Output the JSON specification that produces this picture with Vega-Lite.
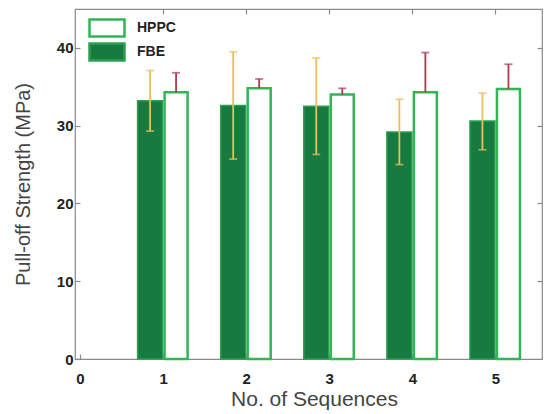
{
  "$schema": "https://vega.github.io/schema/vega-lite/v6.json",
  "width": 467,
  "height": 350,
  "autosize": {"type": "none"},
  "padding": {"left": 75, "top": 9, "right": 5, "bottom": 55},
  "background": "white",
  "config": {
    "font": "Liberation Sans",
    "view": {"stroke": "#8a8a8a", "strokeWidth": 1.2},
    "axis": {
      "domain": false,
      "grid": false,
      "tickColor": "#8a8a8a",
      "tickSize": -5,
      "tickWidth": 1.2,
      "labelFont": "Liberation Sans",
      "labelFontWeight": "bold",
      "labelFontSize": 15,
      "labelColor": "#222",
      "titleFont": "Liberation Sans",
      "titleFontWeight": "normal",
      "titleFontSize": 20,
      "titleColor": "#444"
    },
    "legend": {"rowPadding": -5, "padding": 0, "symbolSize": 306}
  },
  "resolve": {"axis": {"x": "independent", "y": "independent"}},
  "data": {
    "values": [
      {"seq": 1, "series": "FBE", "mean": 33.2, "lo": 29.3, "hi": 37.1},
      {"seq": 2, "series": "FBE", "mean": 32.6, "lo": 25.7, "hi": 39.5},
      {"seq": 3, "series": "FBE", "mean": 32.5, "lo": 26.3, "hi": 38.7},
      {"seq": 4, "series": "FBE", "mean": 29.2, "lo": 25.0, "hi": 33.4},
      {"seq": 5, "series": "FBE", "mean": 30.6, "lo": 26.9, "hi": 34.2},
      {"seq": 1, "series": "HPPC", "mean": 34.3, "lo": 31.8, "hi": 36.8},
      {"seq": 2, "series": "HPPC", "mean": 34.8, "lo": 33.6, "hi": 36.0},
      {"seq": 3, "series": "HPPC", "mean": 34.0, "lo": 33.2, "hi": 34.8},
      {"seq": 4, "series": "HPPC", "mean": 34.3, "lo": 29.2, "hi": 39.4},
      {"seq": 5, "series": "HPPC", "mean": 34.7, "lo": 31.5, "hi": 37.9}
    ]
  },
  "layer": [
    {
      "transform": [{"filter": "datum.series === 'FBE'"}],
      "mark": {"type": "bar", "width": 25, "xOffset": -13, "strokeWidth": 1.5},
      "encoding": {
        "x": {
          "field": "seq", "type": "quantitative",
          "scale": {"domain": [0, 5.5], "nice": false},
          "axis": {"orient": "bottom", "values": [0, 1, 2, 3, 4, 5], "format": "d", "labelPadding": 17, "title": "No. of Sequences", "titleFontSize": 21, "titlePadding": 2, "titleX": 239}
        },
        "y": {
          "field": "mean", "type": "quantitative",
          "scale": {"domain": [0, 45], "nice": false},
          "axis": {"orient": "left", "values": [0, 10, 20, 30, 40], "labelPadding": 7, "title": "Pull-off Strength (MPa)", "titlePadding": 23}
        },
        "fill": {
          "field": "series", "type": "nominal",
          "scale": {"domain": ["HPPC", "FBE"], "range": ["#ffffff", "#167a41"]},
          "legend": {
            "orient": "none", "legendX": 22, "legendY": 9, "title": null,
            "symbolType": "M-2,-0.96H2V0.96H-2Z", "symbolSize": 306, "symbolStrokeWidth": 2.5,
            "labelFont": "Liberation Sans", "labelFontWeight": "bold", "labelFontSize": 14, "labelColor": "#222",
            "labelOffset": 20, "rowPadding": -5
          }
        },
        "stroke": {
          "field": "series", "type": "nominal",
          "scale": {"domain": ["HPPC", "FBE"], "range": ["#31b555", "#2e9e50"]},
          "legend": {
            "orient": "none", "legendX": 22, "legendY": 9, "title": null,
            "symbolType": "M-2,-0.96H2V0.96H-2Z", "symbolSize": 306, "symbolStrokeWidth": 2.5,
            "labelFont": "Liberation Sans", "labelFontWeight": "bold", "labelFontSize": 14, "labelColor": "#222",
            "labelOffset": 20, "rowPadding": -5
          }
        }
      }
    },
    {
      "transform": [{"filter": "datum.series === 'HPPC'"}],
      "mark": {"type": "bar", "width": 23, "xOffset": 13, "strokeWidth": 2.5},
      "encoding": {
        "x": {"field": "seq", "type": "quantitative", "axis": null},
        "y": {"field": "mean", "type": "quantitative", "axis": null},
        "fill": {"field": "series", "type": "nominal"},
        "stroke": {"field": "series", "type": "nominal"}
      }
    },
    {
      "transform": [{"filter": "datum.series === 'FBE'"}],
      "mark": {"type": "rule", "xOffset": -13, "color": "#e8bf5a", "strokeWidth": 1.8},
      "encoding": {
        "x": {"field": "seq", "type": "quantitative", "axis": null},
        "y": {"field": "lo", "type": "quantitative", "axis": null},
        "y2": {"field": "hi"}
      }
    },
    {
      "transform": [{"filter": "datum.series === 'FBE'"}],
      "mark": {"type": "tick", "orient": "horizontal", "xOffset": -13, "color": "#e8bf5a", "size": 8, "thickness": 1.8},
      "encoding": {
        "x": {"field": "seq", "type": "quantitative", "axis": null},
        "y": {"field": "lo", "type": "quantitative", "axis": null}
      }
    },
    {
      "transform": [{"filter": "datum.series === 'FBE'"}],
      "mark": {"type": "tick", "orient": "horizontal", "xOffset": -13, "color": "#e8bf5a", "size": 8, "thickness": 1.8},
      "encoding": {
        "x": {"field": "seq", "type": "quantitative", "axis": null},
        "y": {"field": "hi", "type": "quantitative", "axis": null}
      }
    },
    {
      "transform": [{"filter": "datum.series === 'HPPC'"}],
      "mark": {"type": "rule", "xOffset": 13, "color": "#a53f4e", "strokeWidth": 1.8},
      "encoding": {
        "x": {"field": "seq", "type": "quantitative", "axis": null},
        "y": {"field": "mean", "type": "quantitative", "axis": null},
        "y2": {"field": "hi"}
      }
    },
    {
      "transform": [{"filter": "datum.series === 'HPPC'"}],
      "mark": {"type": "tick", "orient": "horizontal", "xOffset": 13, "color": "#a53f4e", "size": 8, "thickness": 1.8},
      "encoding": {
        "x": {"field": "seq", "type": "quantitative", "axis": {"orient": "top", "values": [1, 2, 3, 4, 5], "labels": false, "title": null}},
        "y": {"field": "hi", "type": "quantitative", "axis": {"orient": "right", "values": [10, 20, 30, 40], "labels": false, "title": null}}
      }
    }
  ]
}
